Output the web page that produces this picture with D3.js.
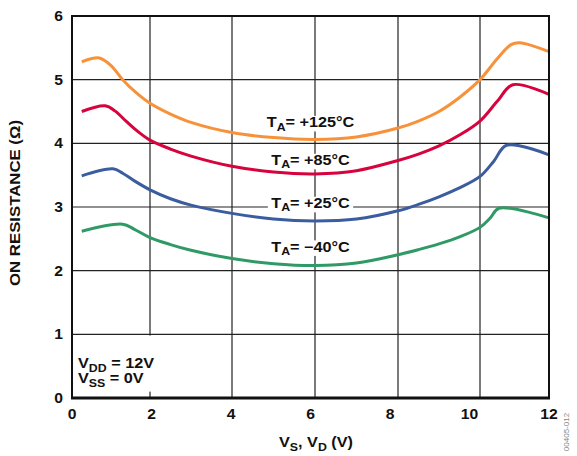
<!DOCTYPE html>
<html>
<head><title>On resistance vs VS, VD</title></head>
<body style="margin:0;background:#fff">
<style>
  body { font-family: "Liberation Sans", Arial, Helvetica, sans-serif; }
  text { font-family: "Liberation Sans", Arial, Helvetica, sans-serif; font-weight: bold; fill: #111; }
</style>
<svg id="chart" width="577" height="456"></svg>
<script src="https://d3js.org/d3.v7.min.js"></script>
<script>

// values
let xTicks = [0, 2, 4, 6, 8, 10, 12];
let yTicks = [0, 1, 2, 3, 4, 5, 6];

let x125 = [0.25, 0.7, 1.0, 1.3, 1.6, 2, 2.5, 3, 4, 5, 6, 7, 8, 8.5, 9, 9.5, 10, 10.5, 10.9, 11.15, 12];
let r125 = [5.28, 5.34, 5.22, 5.0, 4.82, 4.63, 4.46, 4.33, 4.17, 4.09, 4.06, 4.1, 4.24, 4.35, 4.5, 4.72, 5.0, 5.33, 5.55, 5.58, 5.44];

let x85 = [0.25, 0.85, 1.1, 1.4, 1.7, 2, 2.5, 3, 4, 5, 6, 7, 8, 8.5, 9, 9.5, 10, 10.5, 10.95, 12];
let r85 = [4.5, 4.59, 4.51, 4.34, 4.18, 4.05, 3.91, 3.8, 3.64, 3.55, 3.52, 3.57, 3.73, 3.83, 3.96, 4.13, 4.35, 4.66, 4.92, 4.77];

let x25 = [0.25, 1.05, 1.3, 1.6, 2, 2.5, 3, 4, 5, 6, 7, 8, 8.5, 9, 9.5, 10, 10.4, 10.77, 12];
let r25 = [3.49, 3.6, 3.53, 3.41, 3.27, 3.13, 3.03, 2.9, 2.81, 2.78, 2.81, 2.94, 3.04, 3.16, 3.3, 3.48, 3.72, 3.97, 3.82];

let xm40 = [0.25, 1.3, 1.6, 2, 2.5, 3, 4, 5, 6, 7, 8, 8.5, 9, 9.5, 10, 10.3, 10.55, 12];
let rm40 = [2.62, 2.73, 2.65, 2.52, 2.41, 2.32, 2.19, 2.11, 2.08, 2.12, 2.25, 2.33, 2.42, 2.53, 2.68, 2.83, 2.98, 2.83];

let seriesNames = ['+125°C', '+85°C', '+25°C', '\u221240°C'];
let seriesColors = ['#f7923a', '#d6033c', '#3b5c9e', '#2f9a66'];
let labelAt = [[6, 4.255], [6, 3.66], [6, 2.985], [6, 2.3]];

let series = [
  {x: x125, y: r125},
  {x: x85, y: r85},
  {x: x25, y: r25},
  {x: xm40, y: rm40}
];

let svg = d3.select('#chart');

let mLeft = 72, mRight = 549, mTop = 16, mBottom = 398;
let stretch = 1.12; // the printed type is a little wider than Arial

// the printed grid is not evenly spaced, so follow it piece by piece
let x = d3.scaleLinear().domain(xTicks).range([mLeft, 150, 232, 315, 398, 480, mRight]);
// tick numbers and labels sit on an even spacing
let xLab = d3.scaleLinear().domain([0, 12]).range([mLeft, mRight]);
let y = d3.scaleLinear().domain([0, 6]).range([mBottom, mTop]);

// draws bold text made of [string, subscript?] parts, widened a bit
function label(parent, px, py, anchor, size, parts) {
  let g = parent.append('g').attr('transform', 'translate(' + px + ',' + py + ') scale(' + stretch + ',1)');
  let t = g.append('text').attr('text-anchor', anchor).style('font-size', size + 'px');
  let sub = false;
  parts.forEach(p => {
    let ts = t.append('tspan').text(p[0]);
    if (p[1] && !sub) ts.attr('dy', 3.5);
    if (!p[1] && sub) ts.attr('dy', -3.5);
    if (p[1]) ts.style('font-size', (size * 0.76) + 'px');
    sub = !!p[1];
  });
  return g;
}

let grid = svg.append('g');
grid.selectAll('line.v').data(xTicks.slice(1, -1)).enter().append('line')
  .attr('x1', d => x(d)).attr('x2', d => x(d))
  .attr('y1', mTop).attr('y2', mBottom)
  .attr('stroke', '#222').attr('stroke-width', 1.2);
grid.selectAll('line.h').data(yTicks.slice(1, -1)).enter().append('line')
  .attr('x1', mLeft).attr('x2', mRight)
  .attr('y1', d => y(d)).attr('y2', d => y(d))
  .attr('stroke', '#222').attr('stroke-width', 1.2);

// supply box covers the grid in the corner
let supply = svg.append('g');
supply.append('rect')
  .attr('x', x(0.1)).attr('y', y(0.98)).attr('width', 82).attr('height', 56)
  .attr('fill', '#fff');

let line = d3.line().curve(d3.curveCatmullRom.alpha(0.5));

series.forEach((s, i) => {
  svg.append('path')
    .attr('d', line(s.x.map((v, j) => [x(v), y(s.y[j])])))
    .attr('fill', 'none')
    .attr('stroke', seriesColors[i])
    .attr('stroke-width', 3)
    .attr('stroke-linejoin', 'round');
});

// frame
svg.append('rect')
  .attr('x', mLeft).attr('y', mTop).attr('width', mRight - mLeft).attr('height', mBottom - mTop)
  .attr('fill', 'none').attr('stroke', '#111').attr('stroke-width', 2);
svg.append('line')
  .attr('x1', mLeft - 1).attr('x2', mRight + 1).attr('y1', mBottom).attr('y2', mBottom)
  .attr('stroke', '#111').attr('stroke-width', 3);

// temperature labels, each on a white patch
seriesNames.forEach((n, i) => {
  let g = label(svg, xLab(labelAt[i][0]), y(labelAt[i][1]), 'middle', 14.5, [['T'], ['A', true], ['= ' + n]]);
  let bb = g.select('text').node().getBBox();
  g.insert('rect', 'text')
    .attr('x', bb.x - 3).attr('y', bb.y + 2).attr('width', bb.width + 6).attr('height', bb.height - 3)
    .attr('fill', '#fff');
});

// supply text
label(supply, 78, 368, 'start', 14.5, [['V'], ['DD', true], [' = 12V']]);
label(supply, 78, 383, 'start', 14.5, [['V'], ['SS', true], [' = 0V']]);

// tick labels
xTicks.forEach(d => label(svg, xLab(d), 419, 'middle', 14, [[String(d)]]));
yTicks.forEach(d => label(svg, 63, y(d) + 5, 'end', 14, [[String(d)]]));

// axis titles
label(svg, 316, 447, 'middle', 14.5, [['V'], ['S', true], [', V'], ['D', true], [' (V)']]);

svg.append('text')
  .attr('transform', 'translate(20,203) rotate(-90)')
  .attr('text-anchor', 'middle').style('font-size', '14px')
  .attr('textLength', 166).attr('lengthAdjust', 'spacingAndGlyphs')
  .text('ON RESISTANCE (\u03A9)');

svg.append('text')
  .attr('transform', 'translate(569,432) rotate(-90)')
  .attr('text-anchor', 'middle').style('font-size', '8px').style('font-weight', 'normal')
  .style('fill', '#888')
  .text('00405-012');

</script>
</body>
</html>
